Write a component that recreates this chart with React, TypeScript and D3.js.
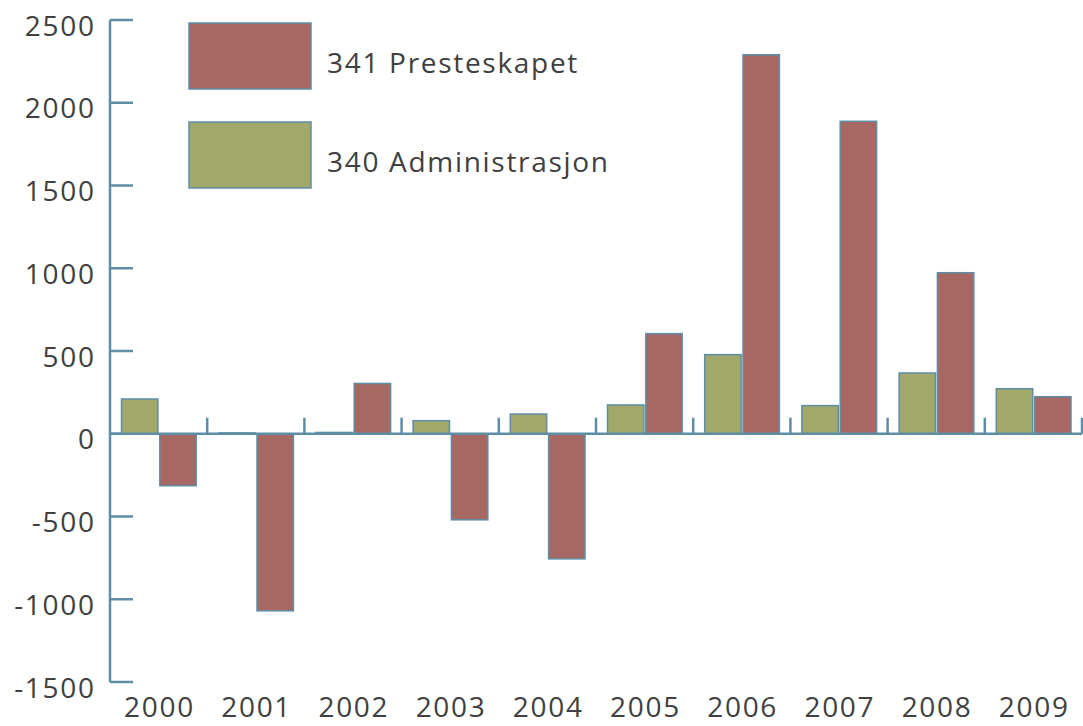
import React, { useEffect, useRef } from "react";
import * as d3 from "d3";

const years = ["2000", "2001", "2002", "2003", "2004", "2005", "2006", "2007", "2008", "2009"];
const administrasjon = [210, 5, 8, 79, 119, 174, 478, 170, 367, 272];
const presteskapet = [-314, -1070, 304, -520, -756, 605, 2290, 1888, 973, 224];
const yTicks = [-1500, -1000, -500, 0, 500, 1000, 1500, 2000, 2500];
const seriesNames = ["341 Presteskapet", "340 Administrasjon"];

const RED = "#a76863";
const GREEN = "#a0a86a";
const AXIS = "#5e8ea6";
const TEXT = "#404040";

const App = () => {
  const svgRef = useRef<SVGSVGElement>(null);

  useEffect(() => {
    // keep the page from growing scrollbars that would hide the bottom labels
    document.documentElement.style.overflow = "hidden";
    document.body.style.overflow = "hidden";
    document.body.style.margin = "0";

    const width = 1083;
    const height = 726;
    const left = 110;
    const right = 1082;

    const svg = d3.select(svgRef.current).attr("width", width).attr("height", height);
    svg.selectAll("*").remove();

    const font = "'Open Sans', 'Noto Sans', sans-serif";
    const spacing = 1.7;

    const y = d3.scaleLinear().domain([-1500, 2500]).range([682, 20]);
    const x = d3.scaleBand().domain(years).range([left, right]).paddingInner(0).paddingOuter(0);
    const inner = d3
      .scaleBand()
      .domain(["adm", "pre"])
      .range([11.5, x.bandwidth() - 11])
      .paddingInner(0.05);

    // y axis line + inward ticks
    svg
      .append("line")
      .attr("x1", left)
      .attr("x2", left)
      .attr("y1", y(2500))
      .attr("y2", y(-1500))
      .attr("stroke", AXIS)
      .attr("stroke-width", 2.5);

    svg
      .selectAll(".ytick")
      .data(yTicks)
      .enter()
      .append("line")
      .attr("x1", left)
      .attr("x2", left + 23)
      .attr("y1", (d) => y(d))
      .attr("y2", (d) => y(d))
      .attr("stroke", AXIS)
      .attr("stroke-width", 2.5);

    svg
      .selectAll(".ylabel")
      .data(yTicks)
      .enter()
      .append("text")
      .attr("x", 94 + spacing)
      .attr("y", (d) => y(d) + 15.5)
      .attr("text-anchor", "end")
      .attr("font-family", font)
      .attr("font-size", 28)
      .attr("letter-spacing", spacing)
      .attr("fill", TEXT)
      .text((d) => d);

    // bars
    const groups = svg
      .selectAll(".year")
      .data(years)
      .enter()
      .append("g")
      .attr("transform", (d) => `translate(${x(d)},0)`);

    groups
      .append("rect")
      .attr("x", inner("adm")!)
      .attr("width", inner.bandwidth())
      .attr("y", (_, i) => y(Math.max(0, administrasjon[i])))
      .attr("height", (_, i) => Math.abs(y(administrasjon[i]) - y(0)))
      .attr("fill", GREEN)
      .attr("stroke", AXIS)
      .attr("stroke-width", 1.5);

    groups
      .append("rect")
      .attr("x", inner("pre")!)
      .attr("width", inner.bandwidth())
      .attr("y", (_, i) => y(Math.max(0, presteskapet[i])))
      .attr("height", (_, i) => Math.abs(y(presteskapet[i]) - y(0)))
      .attr("fill", RED)
      .attr("stroke", AXIS)
      .attr("stroke-width", 1.5);

    // x axis line + upward ticks between categories
    svg
      .append("line")
      .attr("x1", left)
      .attr("x2", right)
      .attr("y1", y(0))
      .attr("y2", y(0))
      .attr("stroke", AXIS)
      .attr("stroke-width", 2.5);

    svg
      .selectAll(".xtick")
      .data(years)
      .enter()
      .append("line")
      .attr("x1", (d) => x(d)! + x.bandwidth())
      .attr("x2", (d) => x(d)! + x.bandwidth())
      .attr("y1", y(0))
      .attr("y2", y(0) - 16)
      .attr("stroke", AXIS)
      .attr("stroke-width", 2.5);

    svg
      .selectAll(".xlabel")
      .data(years)
      .enter()
      .append("text")
      .attr("x", (d) => x(d)! + x.bandwidth() / 2 + spacing / 2)
      .attr("y", 717)
      .attr("text-anchor", "middle")
      .attr("font-family", font)
      .attr("font-size", 28)
      .attr("letter-spacing", spacing)
      .attr("fill", TEXT)
      .text((d) => d);

    // legend
    const legend = [
      { name: seriesNames[0], color: RED, top: 23 },
      { name: seriesNames[1], color: GREEN, top: 122 },
    ];
    legend.forEach((l) => {
      svg
        .append("rect")
        .attr("x", 189)
        .attr("y", l.top)
        .attr("width", 122)
        .attr("height", 66)
        .attr("fill", l.color)
        .attr("stroke", AXIS)
        .attr("stroke-width", 1.5);
      svg
        .append("text")
        .attr("x", 327)
        .attr("y", l.top + 50)
        .attr("font-family", font)
        .attr("font-size", 28)
        .attr("letter-spacing", spacing)
        .attr("fill", TEXT)
        .text(l.name);
    });
  }, []);

  return <svg ref={svgRef} style={{ position: "absolute", left: 0, top: 0, display: "block" }}></svg>;
};

export default App;
